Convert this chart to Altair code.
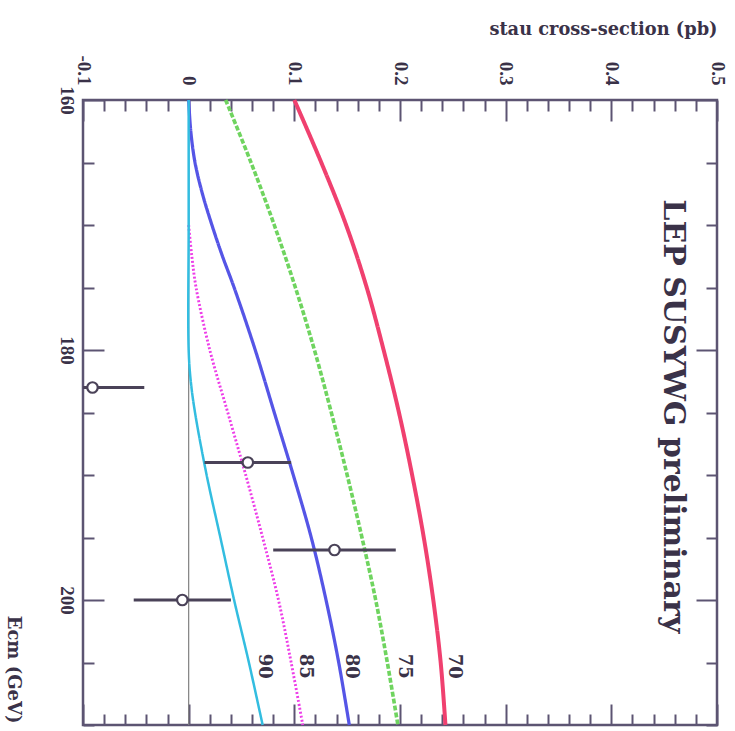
import altair as alt
import pandas as pd

# ---------------- data ----------------
series_names = ["70", "75", "80", "85", "90"]

ecm_70 = [160, 165, 170, 175, 180, 185, 190, 195, 200, 205, 210]
xs_70 = [0.100, 0.1255, 0.149, 0.1685, 0.1845, 0.199, 0.2115, 0.2225, 0.2315, 0.2385, 0.243]

ecm_75 = [160, 165, 170, 175, 180, 185, 190, 195, 200, 205, 210]
xs_75 = [0.035, 0.059, 0.081, 0.101, 0.119, 0.135, 0.150, 0.164, 0.177, 0.188, 0.198]

ecm_80 = [160, 162.5, 165, 167.5, 170, 172.5, 175, 180, 185, 190, 195, 200, 205, 210]
xs_80 = [0.0, 0.002, 0.006, 0.013, 0.022, 0.032, 0.043, 0.063, 0.081, 0.099, 0.116, 0.130, 0.142, 0.152]

ecm_85 = [170, 172.5, 175, 180, 185, 190, 195, 200, 205, 210]
xs_85 = [0.0, 0.003, 0.007, 0.020, 0.037, 0.054, 0.070, 0.085, 0.097, 0.108]

ecm_90 = [160, 170, 180, 182.5, 185, 190, 195, 200, 205, 210]
xs_90 = [0.0, 0.0, 0.0, 0.002, 0.006, 0.017, 0.030, 0.043, 0.057, 0.070]

zero_ecm = [160, 210]
zero_xs = [0.0, 0.0]

pt_ecm = [183, 189, 196, 200]
pt_xs = [-0.091, 0.056, 0.138, -0.006]
pt_err = [0.049, 0.041, 0.058, 0.046]

label_text = ["70", "75", "80", "85", "90"]
label_xs = [0.251, 0.204, 0.154, 0.110, 0.071]
label_ecm = [205.3, 205.3, 205.3, 205.3, 205.3]

banner_text = ["LEP SUSYWG preliminary"]
banner_xs = [0.450]
banner_ecm = [185.3]

x_major = [-0.1, 0.0, 0.1, 0.2, 0.3, 0.4, 0.5]
x_ticks = [round(-0.1 + 0.02 * i, 2) for i in range(31)]
y_major = [160, 180, 200]
y_ticks = list(range(160, 211, 5))

# ---------------- tables ----------------
rows = []
for name, e_list, x_list in zip(series_names,
                                [ecm_70, ecm_75, ecm_80, ecm_85, ecm_90],
                                [xs_70, xs_75, xs_80, xs_85, xs_90]):
    for e, x in zip(e_list, x_list):
        rows.append({"series": name, "ecm": e, "xs": x})
curves = pd.DataFrame(rows)
zero_df = pd.DataFrame({"ecm": zero_ecm, "xs": zero_xs})
pts = pd.DataFrame({"ecm": pt_ecm, "xs": pt_xs,
                    "lo": [a - b for a, b in zip(pt_xs, pt_err)],
                    "hi": [a + b for a, b in zip(pt_xs, pt_err)]})
labels_df = pd.DataFrame({"t": label_text, "xs": label_xs, "ecm": label_ecm})
banner_df = pd.DataFrame({"t": banner_text, "xs": banner_xs, "ecm": banner_ecm})

# ---------------- style ----------------
W, H = 634, 625
FR = "#5c5472"
TXT = "#3a3248"
FONT = "DejaVu Serif"
TICKFONT = "Liberation Serif"

xsc = alt.Scale(domain=[-0.1, 0.5], nice=False, zero=False)
ysc = alt.Scale(domain=[160, 210], nice=False, zero=False, reverse=True)

x_major_test = "abs(datum.value*10 - round(datum.value*10)) < 0.001"
y_major_test = "datum.value % 20 === 0"


def tick_axis(orient, values, test, offset):
    return alt.Axis(orient=orient, offset=offset, values=values, labels=False,
                    title=None, domain=False, grid=False, ticks=True,
                    tickColor=FR, tickWidth=2,
                    tickSize={"condition": {"test": test, "value": 21}, "value": 11})


x_label_axis = alt.Axis(
    orient="top", values=x_major, ticks=False, domain=False, grid=False,
    labelAngle=90, labelAlign="right", labelBaseline="middle", labelPadding=15,
    labelFont=TICKFONT, labelFontWeight="bold", labelFontSize=19, labelColor=TXT,
    labelFlush=False, labelOverlap=False, labelBound=False,
    labelExpr="datum.value < -0.05 ? '-0.1' : (abs(datum.value) < 0.001 ? '0' : format(datum.value, '.1f'))",
    title="stau cross-section (pb)", titleFont=FONT, titleFontWeight="bold",
    titleFontSize=17.8, titleColor=TXT, titleAngle=0, titleAlign="right",
    titleBaseline="middle", titleX=W, titleY=-71)

y_label_axis = alt.Axis(
    orient="left", values=y_major, ticks=False, domain=False, grid=False,
    labelAngle=90, labelAlign="center", labelBaseline="top", labelPadding=8,
    labelFont=TICKFONT, labelFontWeight="bold", labelFontSize=19, labelColor=TXT,
    labelFlush=False, labelOverlap=False, labelBound=False,
    title="Ecm (GeV)", titleFont=FONT, titleFontWeight="bold", titleFontSize=18,
    titleColor=TXT, titleAngle=90, titleAlign="right", titleBaseline="middle",
    titleX=-71, titleY=H - 2)

zero_line = alt.Chart(zero_df).mark_line(color="#808080", strokeWidth=1.2).encode(
    x=alt.X("xs:Q", scale=xsc, axis=x_label_axis),
    y=alt.Y("ecm:Q", scale=ysc, axis=y_label_axis),
    order="ecm:Q")

curve_layer = alt.Chart(curves).mark_line(strokeCap="butt", interpolate="catmull-rom").encode(
    x=alt.X("xs:Q", scale=xsc, axis=None),
    y=alt.Y("ecm:Q", scale=ysc, axis=None),
    order="ecm:Q",
    color=alt.Color("series:N", legend=None,
                    scale=alt.Scale(domain=series_names,
                                    range=["#f0406f", "#6fd45f", "#5555e6", "#ee3ee8", "#33bde0"])),
    strokeDash=alt.StrokeDash("series:N", legend=None,
                              scale=alt.Scale(domain=series_names,
                                              range=[[1, 0], [5, 2], [1, 0], [2, 2], [1, 0]])),
    strokeWidth=alt.StrokeWidth("series:N", legend=None,
                                scale=alt.Scale(domain=series_names,
                                                range=[4, 2.5, 2.5, 2.5, 2.5])))

err_layer = alt.Chart(pts).mark_rule(color="#4a4258", strokeWidth=3, clip=True).encode(
    x=alt.X("lo:Q", scale=xsc, axis=tick_axis("bottom", x_ticks, x_major_test, -H)),
    x2="hi:Q",
    y=alt.Y("ecm:Q", scale=ysc, axis=tick_axis("right", y_ticks, y_major_test, -W)))

pt_layer = alt.Chart(pts).mark_point(shape="circle", filled=False, fill="white",
                                     fillOpacity=1, opacity=1, stroke="#4a4258",
                                     strokeWidth=2.2, size=110).encode(
    x=alt.X("xs:Q", scale=xsc, axis=tick_axis("top", x_ticks, x_major_test, -H)),
    y=alt.Y("ecm:Q", scale=ysc, axis=tick_axis("left", y_ticks, y_major_test, -W)))

label_layer = alt.Chart(labels_df).mark_text(
    angle=90, align="center", baseline="middle", font=FONT, fontWeight="bold",
    fontSize=18, color=TXT).encode(
    x=alt.X("xs:Q", scale=xsc, axis=None),
    y=alt.Y("ecm:Q", scale=ysc, axis=None),
    text="t:N")

banner_layer = alt.Chart(banner_df).mark_text(
    angle=90, align="center", baseline="alphabetic", font=FONT, fontWeight="bold",
    fontSize=30, color=TXT).encode(
    x=alt.X("xs:Q", scale=xsc, axis=None),
    y=alt.Y("ecm:Q", scale=ysc, axis=None),
    text="t:N")

chart = alt.layer(zero_line, curve_layer, err_layer, pt_layer, label_layer, banner_layer).resolve_axis(
    x="independent", y="independent"
).properties(
    width=W, height=H,
    autosize=alt.AutoSizeParams(type="none"),
    padding={"left": 83, "top": 100, "right": 18, "bottom": 6},
    background="white",
).configure_view(stroke=FR, strokeWidth=2.5)

chart.save("out.html", embed_options={"renderer": "svg", "actions": False})
